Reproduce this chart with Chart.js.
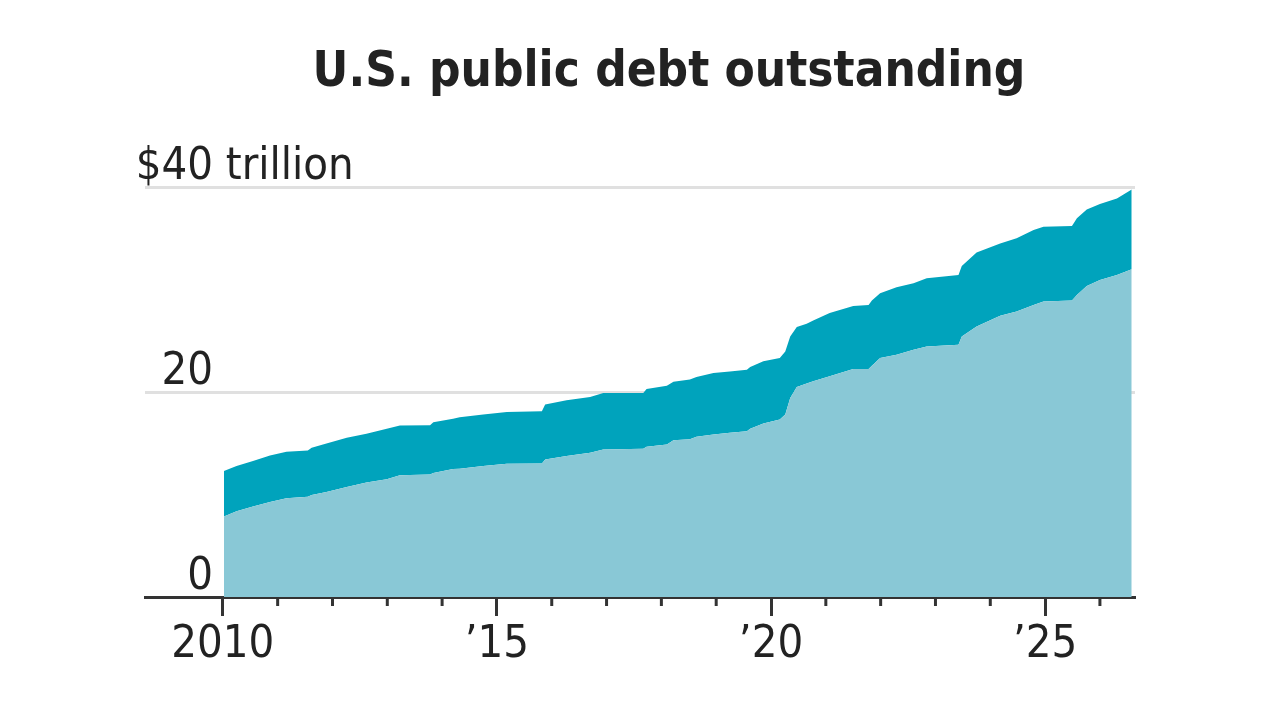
<!DOCTYPE html>
<html>
<head>
<meta charset="utf-8">
<script src="https://cdn.jsdelivr.net/npm/chart.js@4.4.1/dist/chart.umd.min.js"></script>
<style>
  html, body { margin: 0; padding: 0; background: #fff; }
  #wrap { width: 1280px; height: 720px; }
</style>
</head>
<body>
<div id="wrap"><canvas id="debt"></canvas></div>
<script>
// Dates as decimal years, debt in trillions of dollars
const dates = [
  2010.02, 2010.25, 2010.55, 2010.86, 2011.16, 2011.55, 2011.62, 2011.89,
  2012.26, 2012.62, 2012.99, 2013.23, 2013.78, 2013.84, 2014.20, 2014.32,
  2014.75, 2015.18, 2015.82, 2015.88, 2016.27, 2016.70, 2016.94, 2017.67,
  2017.73, 2018.10, 2018.22, 2018.52, 2018.64, 2018.95, 2019.25, 2019.56,
  2019.62, 2019.86, 2020.16, 2020.26, 2020.35, 2020.47, 2020.65, 2020.77,
  2021.07, 2021.50, 2021.78, 2021.84, 2021.99, 2022.29, 2022.60, 2022.84,
  2023.42, 2023.48, 2023.75, 2024.18, 2024.48, 2024.79, 2024.97, 2025.49,
  2025.58, 2025.76, 2026.00, 2026.31, 2026.58
];
// Debt held by the public (lower band)
const heldByPublic = [
  7.85, 8.37, 8.82, 9.27, 9.63, 9.79, 9.95, 10.24,
  10.73, 11.16, 11.48, 11.87, 11.96, 12.10, 12.50, 12.52,
  12.77, 13.00, 13.03, 13.42, 13.75, 14.07, 14.40, 14.46,
  14.66, 14.88, 15.30, 15.40, 15.63, 15.86, 16.02, 16.18,
  16.41, 16.93, 17.32, 17.80, 19.42, 20.49, 20.82, 21.04,
  21.53, 22.25, 22.25, 22.57, 23.32, 23.64, 24.12, 24.45,
  24.61, 25.42, 26.39, 27.43, 27.85, 28.50, 28.82, 28.92,
  29.47, 30.35, 30.93, 31.42, 31.97
];
// Total public debt outstanding (top of the upper band)
const totalDebt = [
  12.29, 12.77, 13.26, 13.81, 14.17, 14.30, 14.56, 14.98,
  15.53, 15.92, 16.41, 16.73, 16.75, 17.05, 17.38, 17.54,
  17.80, 18.06, 18.13, 18.77, 19.19, 19.52, 19.91, 19.91,
  20.30, 20.62, 21.01, 21.21, 21.47, 21.86, 22.01, 22.18,
  22.44, 22.99, 23.32, 23.96, 25.42, 26.33, 26.65, 26.98,
  27.70, 28.40, 28.50, 28.92, 29.64, 30.22, 30.61, 31.10,
  31.42, 32.30, 33.60, 34.50, 34.99, 35.80, 36.12, 36.19,
  36.94, 37.81, 38.33, 38.88, 39.76
];

const xTickYears = [2010, 2015, 2020, 2025];
const xTickLabels = ["2010", "\u201915", "\u201920", "\u201925"];
const xMinorYears = [2011, 2012, 2013, 2014, 2016, 2017, 2018, 2019, 2021, 2022, 2023, 2024, 2026];
const yTickValues = [0, 20, 40];
const yTickLabels = ["0", "20", "$40"];
const yUnit = " trillion";

const FONT = '"DejaVu Sans Condensed", "Liberation Sans Narrow", sans-serif';
const INK = "#222222";
const AXIS = "#333333";

// Title, y labels and the short minor ticks are drawn here
const decorations = {
  id: "decorations",
  afterDraw(chart) {
    const ctx = chart.ctx;
    const x = chart.scales.x;
    const y = chart.scales.y;

    ctx.save();
    ctx.fillStyle = INK;
    ctx.font = "bold 49px " + FONT;
    ctx.textAlign = "center";
    ctx.textBaseline = "alphabetic";
    ctx.fillText("U.S. public debt outstanding", 669, 86);

    ctx.font = "45px " + FONT;
    yTickValues.forEach((v, i) => {
      const py = y.getPixelForValue(v) - 8;
      ctx.textAlign = "right";
      ctx.fillText(yTickLabels[i], 213, py);
      if (i === yTickValues.length - 1) {
        ctx.textAlign = "left";
        ctx.fillText(yUnit, 213, py);
      }
    });

    ctx.strokeStyle = AXIS;
    ctx.lineWidth = 3;
    const base = chart.chartArea.bottom;
    xMinorYears.forEach(yr => {
      const px = x.getPixelForValue(yr);
      ctx.beginPath();
      ctx.moveTo(px, base);
      ctx.lineTo(px, base + 9);
      ctx.stroke();
    });
    ctx.restore();
  }
};

new Chart(document.getElementById("debt"), {
  type: "line",
  data: {
    datasets: [
      {
        label: "Held by the public",
        data: dates.map((d, i) => ({ x: d, y: heldByPublic[i] })),
        fill: "origin",
        backgroundColor: "#89c8d6",
        borderWidth: 0,
        pointRadius: 0
      },
      {
        label: "Total",
        data: dates.map((d, i) => ({ x: d, y: totalDebt[i] })),
        fill: "-1",
        backgroundColor: "#00a3bc",
        borderWidth: 0,
        pointRadius: 0
      }
    ]
  },
  options: {
    responsive: true,
    maintainAspectRatio: false,
    animation: false,
    layout: { padding: { top: 187, left: 145, right: 145, bottom: 46 } },
    plugins: {
      legend: { display: false },
      tooltip: { enabled: false },
      title: { display: false }
    },
    scales: {
      x: {
        type: "linear",
        min: 2008.58,
        max: 2026.64,
        afterBuildTicks: axis => { axis.ticks = xTickYears.map(v => ({ value: v })); },
        ticks: {
          autoSkip: false,
          maxRotation: 0,
          padding: 2,
          color: INK,
          font: { family: FONT, size: 45 },
          callback: v => xTickLabels[xTickYears.indexOf(v)]
        },
        grid: {
          drawOnChartArea: false,
          drawTicks: true,
          tickLength: 19,
          tickWidth: 3,
          tickColor: AXIS
        },
        border: { display: true, color: AXIS, width: 3 }
      },
      y: {
        min: 0,
        max: 40,
        z: 1,
        afterBuildTicks: axis => { axis.ticks = yTickValues.map(v => ({ value: v })); },
        ticks: { display: false },
        grid: {
          drawTicks: false,
          lineWidth: 3,
          color: ctx => ctx.tick && ctx.tick.value === 0 ? "rgba(0,0,0,0)" : "rgba(0,0,0,0.12)"
        },
        border: { display: false }
      }
    }
  },
  plugins: [decorations]
});
</script>
</body>
</html>
